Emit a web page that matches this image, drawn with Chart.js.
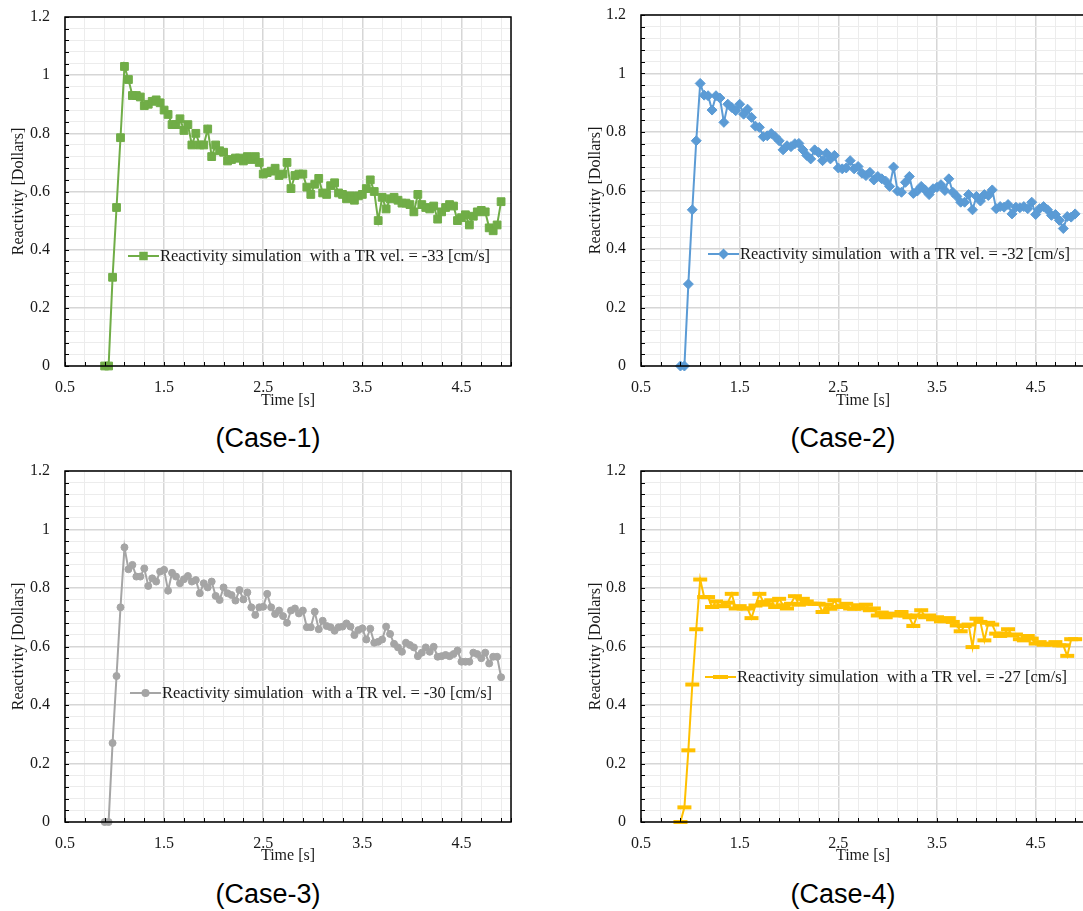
<!DOCTYPE html>
<html>
<head>
<meta charset="utf-8">
<script src="https://cdn.jsdelivr.net/npm/chart.js@4.4.1/dist/chart.umd.min.js"></script>
<style>
  html, body { margin: 0; padding: 0; background: #fff; }
  body { position: relative; width: 1083px; height: 911px; overflow: hidden; }
  canvas { position: absolute; }
  .caption {
    position: absolute; width: 300px; text-align: center;
    font-family: "Liberation Sans", Arial, sans-serif; font-size: 27px;
    line-height: 32px; color: #000;
  }
</style>
</head>
<body>
<canvas id="case1" width="520" height="415" style="left:0;top:0"></canvas>
<canvas id="case2" width="520" height="415" style="left:577px;top:0"></canvas>
<canvas id="case3" width="520" height="415" style="left:0;top:455px"></canvas>
<canvas id="case4" width="520" height="415" style="left:577px;top:455px"></canvas>
<div class="caption" style="left:118px;top:422px">(Case-1)</div>
<div class="caption" style="left:693px;top:422px">(Case-2)</div>
<div class="caption" style="left:118px;top:878px">(Case-3)</div>
<div class="caption" style="left:693px;top:878px">(Case-4)</div>
<script>
// sample times [s]
const times = [
  0.9, 0.94, 0.98, 1.02, 1.06, 1.1, 1.14, 1.18, 1.22, 1.26,
  1.3, 1.34, 1.38, 1.42, 1.46, 1.5, 1.54, 1.58, 1.62, 1.66,
  1.7, 1.74, 1.78, 1.82, 1.86, 1.9, 1.94, 1.98, 2.02, 2.06,
  2.1, 2.14, 2.18, 2.22, 2.26, 2.3, 2.34, 2.38, 2.42, 2.46,
  2.5, 2.54, 2.58, 2.62, 2.66, 2.7, 2.74, 2.78, 2.82, 2.86,
  2.9, 2.94, 2.98, 3.02, 3.06, 3.1, 3.14, 3.18, 3.22, 3.26,
  3.3, 3.34, 3.38, 3.42, 3.46, 3.5, 3.54, 3.58, 3.62, 3.66,
  3.7, 3.74, 3.78, 3.82, 3.86, 3.9, 3.94, 3.98, 4.02, 4.06,
  4.1, 4.14, 4.18, 4.22, 4.26, 4.3, 4.34, 4.38, 4.42, 4.46,
  4.5, 4.54, 4.58, 4.62, 4.66, 4.7, 4.74, 4.78, 4.82, 4.86,
  4.9
];

// reactivity [dollars], TR vel. = -33 cm/s
const case1 = [
  0, 0, 0.305, 0.545, 0.785, 1.03, 0.985, 0.93, 0.93, 0.925,
  0.895, 0.9, 0.91, 0.915, 0.905, 0.88, 0.865, 0.83, 0.83, 0.85,
  0.81, 0.83, 0.76, 0.8, 0.76, 0.76, 0.815, 0.72, 0.76, 0.74,
  0.735, 0.705, 0.71, 0.715, 0.715, 0.705, 0.72, 0.71, 0.72, 0.7,
  0.66, 0.665, 0.67, 0.68, 0.655, 0.66, 0.7, 0.61, 0.655, 0.66,
  0.66, 0.615, 0.59, 0.625, 0.645, 0.595, 0.59, 0.62, 0.63, 0.595,
  0.59, 0.575, 0.585, 0.57, 0.585, 0.59, 0.61, 0.64, 0.6, 0.5,
  0.58, 0.54, 0.575, 0.58, 0.57, 0.56, 0.56, 0.555, 0.53, 0.59,
  0.555, 0.545, 0.54, 0.55, 0.505, 0.53, 0.545, 0.555, 0.55, 0.5,
  0.51, 0.52, 0.485, 0.515, 0.53, 0.535, 0.53, 0.475, 0.465, 0.485,
  0.565
];

// TR vel. = -32 cm/s
const case2 = [
  0, 0, 0.28, 0.534, 0.77, 0.966, 0.926, 0.924, 0.875, 0.924,
  0.916, 0.833, 0.895, 0.884, 0.873, 0.895, 0.861, 0.878, 0.85, 0.82,
  0.816, 0.784, 0.787, 0.795, 0.784, 0.77, 0.739, 0.753, 0.75, 0.76,
  0.761, 0.739, 0.72, 0.708, 0.739, 0.73, 0.702, 0.727, 0.708, 0.72,
  0.677, 0.674, 0.677, 0.702, 0.674, 0.682, 0.659, 0.651, 0.662, 0.636,
  0.648, 0.64, 0.632, 0.614, 0.68, 0.598, 0.594, 0.628, 0.648, 0.59,
  0.598, 0.614, 0.602, 0.586, 0.606, 0.611, 0.62, 0.6, 0.64, 0.594,
  0.58, 0.56, 0.56, 0.586, 0.534, 0.58, 0.564, 0.586, 0.583, 0.602,
  0.538, 0.545, 0.543, 0.552, 0.52, 0.543, 0.541, 0.545, 0.538, 0.56,
  0.518, 0.538, 0.545, 0.534, 0.515, 0.518, 0.498, 0.47, 0.511, 0.509,
  0.52
];

// TR vel. = -30 cm/s
const case3 = [
  0, 0, 0.27, 0.499, 0.734, 0.939, 0.864, 0.879, 0.839, 0.839,
  0.867, 0.807, 0.833, 0.822, 0.856, 0.862, 0.791, 0.852, 0.839, 0.816,
  0.83, 0.841, 0.822, 0.827, 0.782, 0.816, 0.802, 0.822, 0.773, 0.759,
  0.802, 0.782, 0.776, 0.757, 0.793, 0.761, 0.785, 0.734, 0.708, 0.734,
  0.736, 0.78, 0.734, 0.711, 0.723, 0.704, 0.681, 0.723, 0.73, 0.713,
  0.723, 0.666, 0.666, 0.719, 0.659, 0.688, 0.67, 0.666, 0.654, 0.666,
  0.668, 0.679, 0.668, 0.639, 0.656, 0.662, 0.624, 0.661, 0.613, 0.616,
  0.624, 0.668, 0.643, 0.609, 0.597, 0.582, 0.613, 0.605, 0.597, 0.567,
  0.579, 0.597, 0.582, 0.599, 0.565, 0.567, 0.571, 0.567, 0.574, 0.586,
  0.548, 0.548, 0.548, 0.579, 0.574, 0.56, 0.579, 0.542, 0.565, 0.565,
  0.495
];

// TR vel. = -27 cm/s
const case4 = [
  0, 0.05, 0.245, 0.47, 0.659, 0.829, 0.769, 0.769, 0.735, 0.754,
  0.738, 0.738, 0.75, 0.78, 0.73, 0.738, 0.73, 0.73, 0.697, 0.74,
  0.78, 0.752, 0.743, 0.758, 0.735, 0.763, 0.741, 0.73, 0.746, 0.772,
  0.743, 0.763, 0.754, 0.746, 0.746, 0.746, 0.718, 0.743, 0.729, 0.758,
  0.735, 0.738, 0.746, 0.73, 0.729, 0.741, 0.73, 0.743, 0.724, 0.73,
  0.706, 0.716, 0.7, 0.709, 0.712, 0.706, 0.718, 0.706, 0.7, 0.67,
  0.706, 0.724, 0.7, 0.706, 0.693, 0.7, 0.686, 0.695, 0.697, 0.684,
  0.672, 0.652, 0.67, 0.675, 0.598, 0.695, 0.684, 0.621, 0.681, 0.675,
  0.644, 0.636, 0.644, 0.659, 0.638, 0.641, 0.625, 0.621, 0.636, 0.627,
  0.61, 0.615, 0.606, 0.61, 0.606, 0.615, 0.604, 0.604, 0.568, 0.625,
  0.625
];

const xTickLabels = [0.5, 1.5, 2.5, 3.5, 4.5];
const yTickLabels = [0, 0.2, 0.4, 0.6, 0.8, 1, 1.2];
const legendTexts = [
  'Reactivity simulation  with a TR vel. = -33 [cm/s]',
  'Reactivity simulation  with a TR vel. = -32 [cm/s]',
  'Reactivity simulation  with a TR vel. = -30 [cm/s]',
  'Reactivity simulation  with a TR vel. = -27 [cm/s]'
];

const SERIF = '"Liberation Serif", "Times New Roman", serif';
Chart.defaults.font.family = SERIF;
Chart.defaults.color = '#1a1a1a';

const isIn = (list, v) => list.some(l => Math.abs(l - v) < 1e-6);

function drawMarker(ctx, style, x, y, r, color) {
  ctx.fillStyle = color;
  ctx.strokeStyle = color;
  ctx.beginPath();
  if (style === 'rect') {
    const s = r * Math.SQRT1_2;
    ctx.rect(x - s, y - s, 2 * s, 2 * s);
    ctx.fill();
  } else if (style === 'rectRot') {
    ctx.moveTo(x, y - r); ctx.lineTo(x + r, y); ctx.lineTo(x, y + r); ctx.lineTo(x - r, y);
    ctx.closePath();
    ctx.fill();
  } else if (style === 'circle') {
    ctx.arc(x, y, r, 0, Math.PI * 2);
    ctx.fill();
  } else if (style === 'line') {
    ctx.lineWidth = 4;
    ctx.moveTo(x - r, y); ctx.lineTo(x + r, y);
    ctx.stroke();
  }
}

// frame, inside tick marks and the in-plot legend
const framePlugin = {
  id: 'frameLegend',
  afterDraw(chart, args, opts) {
    const {ctx, chartArea: a, scales} = chart;
    const ds = chart.data.datasets[0];
    ctx.save();
    ctx.strokeStyle = '#000';
    ctx.lineWidth = 1;
    ctx.beginPath();
    scales.y.ticks.forEach(t => {
      const py = Math.round(scales.y.getPixelForValue(t.value)) + 0.5;
      ctx.moveTo(a.left, py); ctx.lineTo(a.left + 4, py);
    });
    scales.x.ticks.forEach(t => {
      const px = Math.round(scales.x.getPixelForValue(t.value)) + 0.5;
      ctx.moveTo(px, a.bottom); ctx.lineTo(px, a.bottom - 4);
    });
    ctx.stroke();
    ctx.lineWidth = 1.5;
    ctx.strokeRect(a.left, a.top, a.right - a.left, a.bottom - a.top);

    const lx = a.left + opts.dx;
    const ly = a.bottom - opts.dy;
    ctx.strokeStyle = ds.borderColor;
    ctx.lineWidth = 2;
    ctx.beginPath();
    ctx.moveTo(lx, ly); ctx.lineTo(lx + 31, ly);
    ctx.stroke();
    drawMarker(ctx, ds.pointStyle, lx + 15.5, ly, ds.pointRadius + 0.5, ds.borderColor);
    ctx.fillStyle = '#1a1a1a';
    ctx.font = '16.5px ' + SERIF;
    ctx.textBaseline = 'middle';
    ctx.textAlign = 'left';
    ctx.fillText(opts.text, lx + 32, ly + 1);
    ctx.restore();
  }
};

function makeChart(id, values, o) {
  new Chart(document.getElementById(id), {
    type: 'line',
    data: {
      datasets: [{
        data: times.map((t, i) => ({x: t, y: values[i]})),
        borderColor: o.color,
        backgroundColor: o.color,
        borderWidth: 2,
        pointStyle: o.marker,
        pointRadius: o.radius,
        pointBorderWidth: o.pointBorder,
        pointBackgroundColor: o.color,
        pointBorderColor: o.color,
        tension: 0,
        clip: 10
      }]
    },
    options: {
      responsive: false,
      animation: false,
      layout: {padding: {top: o.top, right: o.right, left: 0, bottom: 0}},
      plugins: {
        legend: {display: false},
        tooltip: {enabled: false},
        frameLegend: {dx: o.legendDx, dy: o.legendDy, text: o.legend}
      },
      scales: {
        x: {
          type: 'linear',
          min: 0.5,
          max: 5.0,
          afterFit: s => { s.height = o.xAxisHeight; s.paddingLeft = 0; s.paddingRight = 0; },
          afterBuildTicks: s => {
            const ticks = [];
            for (let k = 0; k < 23; k++) ticks.push({value: Math.round((0.5 + k * 0.2) * 100) / 100});
            ticks.push({value: 5.0});
            s.ticks = ticks;
          },
          ticks: {
            autoSkip: false, maxRotation: 0, padding: 12,
            font: {size: 16},
            callback: v => isIn(xTickLabels, v) ? v.toFixed(1) : ''
          },
          grid: {
            drawTicks: false,
            color: c => isIn(xTickLabels, c.tick.value) ? '#d6d6d6' : '#ececec',
            lineWidth: c => isIn(xTickLabels, c.tick.value) ? 1.5 : 1
          },
          border: {display: false},
          title: {display: true, text: 'Time [s]', font: {size: 16}, padding: {top: 0, bottom: 5}}
        },
        y: {
          min: 0,
          max: 1.2,
          afterFit: s => { s.width = o.yAxisWidth; s.paddingTop = 0; s.paddingBottom = 0; },
          afterBuildTicks: s => {
            const ticks = [];
            for (let k = 0; k <= 30; k++) ticks.push({value: Math.round(k * 4) / 100});
            s.ticks = ticks;
          },
          ticks: {
            autoSkip: false, padding: 15,
            font: {size: 16},
            callback: v => isIn(yTickLabels, v) ? String(v) : ''
          },
          grid: {
            drawTicks: false,
            color: c => isIn(yTickLabels, c.tick.value) ? '#d6d6d6' : '#ececec',
            lineWidth: c => isIn(yTickLabels, c.tick.value) ? 1.5 : 1
          },
          border: {display: false},
          title: {display: true, text: 'Reactivity [Dollars]', font: {size: 16}, padding: {top: 9, bottom: 0}}
        }
      }
    },
    plugins: [framePlugin]
  });
}

makeChart('case1', case1, {
  color: '#70AD47', marker: 'rect', radius: 5.5, pointBorder: 1,
  top: 17, right: 9, yAxisWidth: 65, xAxisHeight: 49,
  legend: legendTexts[0], legendDx: 63, legendDy: 110
});
makeChart('case2', case2, {
  color: '#5B9BD5', marker: 'rectRot', radius: 5, pointBorder: 1,
  top: 15, right: 12, yAxisWidth: 64, xAxisHeight: 49,
  legend: legendTexts[1], legendDx: 67, legendDy: 112
});
makeChart('case3', case3, {
  color: '#A5A5A5', marker: 'circle', radius: 3.5, pointBorder: 1,
  top: 16, right: 9, yAxisWidth: 65, xAxisHeight: 48,
  legend: legendTexts[2], legendDx: 65, legendDy: 129
});
makeChart('case4', case4, {
  color: '#FFC000', marker: 'line', radius: 7, pointBorder: 4,
  top: 16, right: 12, yAxisWidth: 64, xAxisHeight: 48,
  legend: legendTexts[3], legendDx: 64, legendDy: 145
});
</script>
</body>
</html>
